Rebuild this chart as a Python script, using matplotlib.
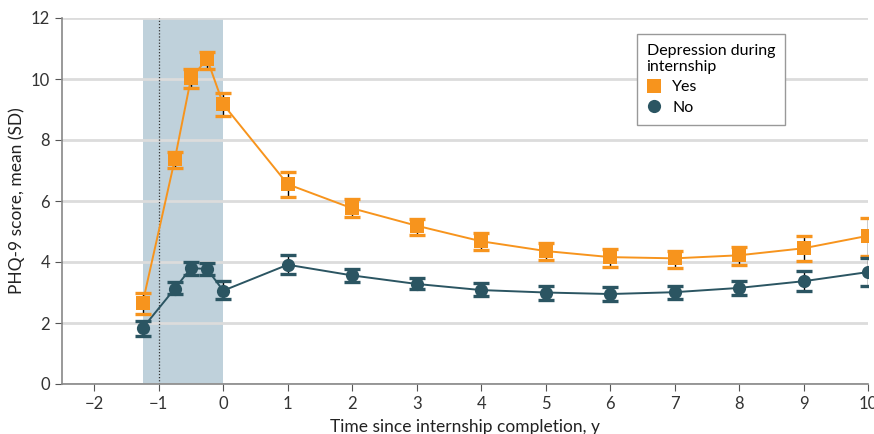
import matplotlib.pyplot as plt
import numpy as np

# time points (years since internship completion)
years = [-1.25, -0.75, -0.5, -0.25, 0, 1, 2, 3, 4, 5, 6, 7, 8, 9, 10]

# depression during internship: yes
yes_mean = [2.65, 7.37, 10.02, 10.66, 9.17, 6.55, 5.76, 5.19, 4.68, 4.36, 4.16, 4.12, 4.22, 4.45, 4.86]
yes_low = [2.28, 7.07, 9.69, 10.32, 8.78, 6.12, 5.47, 4.88, 4.39, 4.06, 3.85, 3.80, 3.90, 4.04, 4.20]
yes_high = [2.97, 7.62, 10.32, 10.87, 9.53, 6.94, 6.06, 5.40, 4.94, 4.62, 4.42, 4.37, 4.49, 4.85, 5.44]

# depression during internship: no
no_mean = [1.83, 3.13, 3.80, 3.77, 3.06, 3.91, 3.56, 3.28, 3.08, 3.00, 2.95, 3.01, 3.15, 3.37, 3.67]
no_low = [1.57, 2.94, 3.57, 3.57, 2.78, 3.60, 3.34, 3.10, 2.90, 2.77, 2.73, 2.78, 2.91, 3.05, 3.22]
no_high = [2.08, 3.34, 4.01, 3.98, 3.37, 4.22, 3.76, 3.47, 3.30, 3.21, 3.17, 3.22, 3.38, 3.71, 4.13]

xticks = list(range(-2, 11))
yticks = list(range(0, 13, 2))

orange = "#F7941D"
teal = "#2B5562"
shade = "#BFD1DB"

plt.rcParams['font.family'] = ['Lato', 'DejaVu Sans']

fig = plt.figure(figsize=(8.74, 4.34), dpi=100)
ax = fig.add_axes([62 / 874, 1 - 384 / 434, 806 / 874, 366 / 434])

ax.axvspan(-1.25, 0, color=shade, zorder=0, lw=0)
ax.axvline(-1, color="#333333", linestyle=(0, (1, 1.5)), linewidth=0.9, zorder=1)


def draw_series(mean, low, high, color, marker, label):
    mean = np.array(mean)
    yerr = [mean - np.array(low), np.array(high) - mean]
    ax.plot(years, mean, color=color, linewidth=1.4, zorder=3)
    _, caps, bars = ax.errorbar(years, mean, yerr=yerr, fmt="none", ecolor="black",
                                elinewidth=1.0, capsize=5.5, capthick=2.4, zorder=4)
    for c in caps:
        c.set_markeredgecolor(color)
        c.set_markerfacecolor(color)
    ax.plot(years, mean, linestyle="none", marker=marker, markersize=9.5,
            color=color, markeredgewidth=0, zorder=5, label=label)


draw_series(yes_mean, yes_low, yes_high, orange, "s", "Yes")
draw_series(no_mean, no_low, no_high, teal, "o", "No")

ax.set_xlim(-2.5, 10)
ax.set_ylim(0, 12)
ax.set_xticks(xticks)
ax.set_yticks(yticks)
ax.yaxis.grid(True, color="#DCDCDC", linewidth=2)
ax.set_axisbelow(True)

for s in ["top", "right"]:
    ax.spines[s].set_visible(False)
for s in ["left", "bottom"]:
    ax.spines[s].set_color("#888888")
    ax.spines[s].set_linewidth(1.2)
ax.spines["left"].set_zorder(6)
ax.tick_params(colors="#333333", labelsize=12, length=5, color="#555555")

ax.set_xlabel("Time since internship completion, y", fontsize=12.5, color="#222222",
              labelpad=5)
ax.set_ylabel("PHQ-9 score, mean (SD)", fontsize=12.5, color="#222222")

leg = ax.legend(title="Depression during\ninternship", loc="upper left",
                bbox_to_anchor=(575 / 806, 1 - 16 / 366), borderaxespad=0,
                fontsize=11.5, title_fontsize=11.5, fancybox=False,
                edgecolor="#999999", framealpha=1, handletextpad=0.7,
                borderpad=0.6, handlelength=0.9, labelspacing=0.4)
leg._legend_box.align = "left"
leg.get_frame().set_linewidth(1.0)

fig.savefig("out.png", dpi=100)
